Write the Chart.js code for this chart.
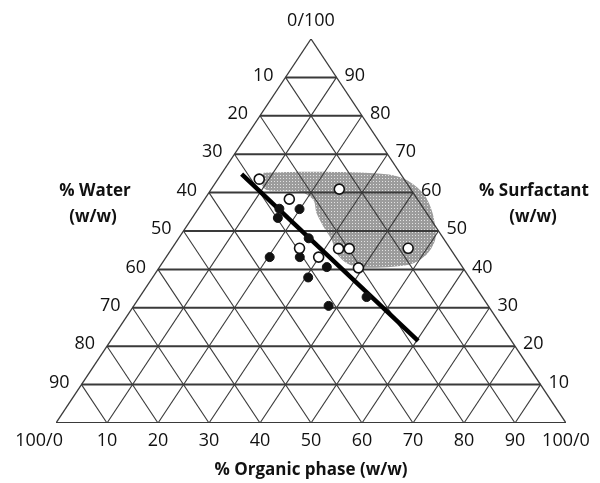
<!DOCTYPE html>
<html>
<head>
<meta charset="utf-8">
<script src="https://cdn.jsdelivr.net/npm/chart.js@4.4.1/dist/chart.umd.min.js"></script>
<style>
html, body { margin: 0; padding: 0; background: #fff; }
</style>
</head>
<body>
<canvas id="myChart" width="600" height="483"></canvas>
<script>
// ternary grid every 10 %
const gridSteps = [10, 20, 30, 40, 50, 60, 70, 80, 90];
const waterLabels = ['10', '20', '30', '40', '50', '60', '70', '80', '90'];
const surfactantLabels = ['90', '80', '70', '60', '50', '40', '30', '20', '10'];
const organicLabels = ['100/0', '10', '20', '30', '40', '50', '60', '70', '80', '90', '100/0'];

// compositions: organic % and surfactant % (water = rest)
const openOrganic    = [8.1, 16.6, 25.1, 25.0, 29.9, 32.7, 34.8, 46.3, 39.1];
const openSurfactant = [63.5, 58.3, 60.9, 45.5, 43.2, 45.4, 45.4, 45.5, 40.4];

const filledOrganic    = [15.9, 16.8, 19.9, 25.5, 20.3, 26.2, 30.5, 32.8, 44.5, 38.2];
const filledSurfactant = [55.8, 53.4, 55.7, 48.1, 43.2, 43.2, 37.9, 40.6, 32.8, 30.5];

const lineOrganic    = [4.0, 60.3];
const lineSurfactant = [64.8, 21.4];

// grey shaded region outline
const regionOrganic    = [8.1, 18.4, 32.4, 37.1, 42.1, 45.9, 48.8, 50.5, 50.8, 49.3, 45.8, 39.4, 36.2, 32.9, 30.2, 26.9, 23.8, 21.4, 17.7, 11.0, 9.1];
const regionSurfactant = [65.2, 65.4, 64.8, 63.3, 59.8, 55.5, 51.1, 47.7, 44.2, 41.6, 40.7, 40.5, 41.6, 44.2, 47.7, 51.1, 54.6, 58.1, 60.2, 60.7, 62.4];

function toXY(o, s) {
    return { x: o + s / 2, y: s };
}

function points(org, surf) {
    return org.map(function(o, i) { return toXY(o, surf[i]); });
}

// stipple pattern for the shaded region
const tile = document.createElement('canvas');
tile.width = 3; tile.height = 3;
const tctx = tile.getContext('2d');
tctx.fillStyle = '#9c9c9c';
tctx.fillRect(0, 0, 3, 3);
tctx.fillStyle = '#e2e2e2';
tctx.fillRect(1, 1, 1, 1);
const stipple = tctx.createPattern(tile, 'repeat');

const datasets = [];

const region = points(regionOrganic, regionSurfactant);
region.push(region[0]);
datasets.push({
    data: region,
    showLine: true,
    fill: 'shape',
    backgroundColor: stipple,
    borderWidth: 0,
    borderColor: 'rgba(0,0,0,0)',
    pointRadius: 0,
    tension: 0.3,
    order: 10
});

function gridLine(a, b, width) {
    datasets.push({
        data: [a, b],
        showLine: true,
        borderColor: '#3a3a3a',
        borderWidth: width,
        pointRadius: 0,
        fill: false,
        order: 8
    });
}

// outer triangle
gridLine(toXY(0, 0), toXY(100, 0), 2);
gridLine(toXY(0, 0), toXY(0, 100), 1.3);
gridLine(toXY(100, 0), toXY(0, 100), 1.3);

gridSteps.forEach(function(k) {
    // constant surfactant (horizontal)
    gridLine(toXY(0, k), toXY(100 - k, k), 2);
    // constant organic
    gridLine(toXY(k, 0), toXY(k, 100 - k), 1.1);
    // constant water
    gridLine(toXY(100 - k, 0), toXY(0, 100 - k), 1.1);
});

datasets.push({
    data: points(lineOrganic, lineSurfactant),
    showLine: true,
    borderColor: '#000',
    borderWidth: 4.5,
    pointRadius: 0,
    fill: false,
    order: 5
});

datasets.push({
    data: points(filledOrganic, filledSurfactant),
    pointRadius: 4.5,
    pointBackgroundColor: '#111',
    pointBorderColor: '#111',
    pointBorderWidth: 1,
    order: 3
});

datasets.push({
    data: points(openOrganic, openSurfactant),
    pointRadius: 5,
    pointBackgroundColor: '#fff',
    pointBorderColor: '#111',
    pointBorderWidth: 1.6,
    order: 2
});

const textPlugin = {
    id: 'ternaryText',
    afterDraw: function(chart) {
        const ctx = chart.ctx;
        const xs = chart.scales.x, ys = chart.scales.y;
        const px = function(p) { return { x: xs.getPixelForValue(p.x), y: ys.getPixelForValue(p.y) }; };
        ctx.save();
        ctx.fillStyle = '#111';
        ctx.font = '18px "Open Sans"';
        ctx.textBaseline = 'middle';

        gridSteps.forEach(function(k, i) {
            const s = 100 - k;
            const l = px(toXY(0, s));
            ctx.textAlign = 'right';
            ctx.fillText(waterLabels[i], l.x - 12, l.y - 2);
            const r = px(toXY(100 - s, s));
            ctx.textAlign = 'left';
            ctx.fillText(surfactantLabels[i], r.x + 8, r.y - 2);
        });

        organicLabels.forEach(function(lab, i) {
            const b = px(toXY(i * 10, 0));
            if (i === 0) {
                ctx.textAlign = 'right';
                ctx.fillText(lab, b.x + 7, b.y + 18);
            } else {
                ctx.textAlign = 'center';
                ctx.fillText(lab, b.x, b.y + 18);
            }
        });

        const top = px(toXY(0, 100));
        ctx.textAlign = 'center';
        ctx.fillText('0/100', top.x, top.y - 18);

        ctx.font = 'bold 17px "Open Sans"';
        ctx.fillText('% Organic phase (w/w)', top.x, 470);
        ctx.fillText('% Water', 95, 191);
        ctx.fillText('(w/w)', 93, 217);
        ctx.fillText('% Surfactant', 534, 191);
        ctx.fillText('(w/w)', 533, 217);
        ctx.restore();
    }
};

const ctx = document.getElementById('myChart').getContext('2d');
const myChart = new Chart(ctx, {
    type: 'scatter',
    data: { datasets: datasets },
    options: {
        responsive: false,
        animation: false,
        layout: { padding: { left: 56, right: 34, top: 39, bottom: 60 } },
        plugins: {
            legend: { display: false },
            tooltip: { enabled: false }
        },
        scales: {
            x: { type: 'linear', min: 0, max: 100, display: false },
            y: { type: 'linear', min: 0, max: 100, display: false }
        }
    },
    plugins: [textPlugin]
});
</script>
</body>
</html>
